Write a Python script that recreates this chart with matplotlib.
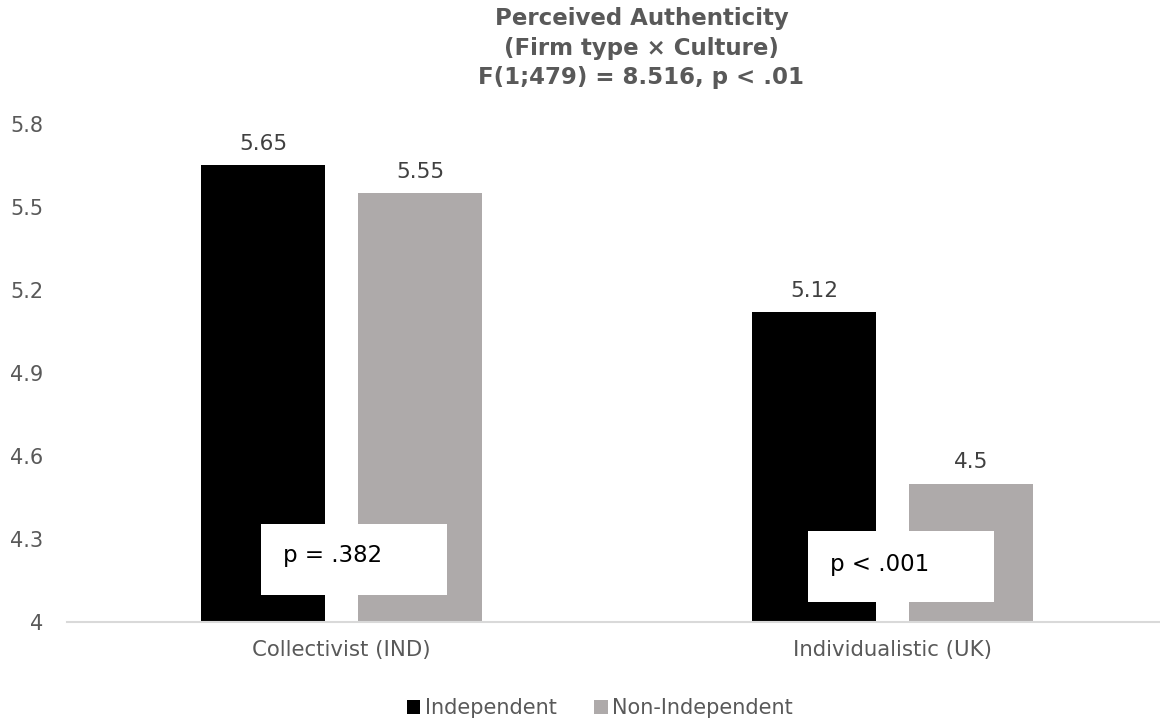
import matplotlib
matplotlib.use("Agg")
import matplotlib.pyplot as plt
from matplotlib.patches import Rectangle, Patch
import numpy as np

# Perceived authenticity means by culture and firm type
cultures = ["Collectivist (IND)", "Individualistic (UK)"]
independent = [5.65, 5.12]
non_independent = [5.55, 4.5]
p_labels = ["p = .382", "p < .001"]
y_ticks = [4, 4.3, 4.6, 4.9, 5.2, 5.5, 5.8]

BLACK = "#000000"
GREY = "#AEAAAA"
TEXT = "#595959"

plt.rcParams["font.family"] = ["DejaVu Sans"]

fig = plt.figure(figsize=(11.6, 7.24), dpi=100)
ax = fig.add_axes([0.0578, 0.141, 0.9422, 0.6878])

x = np.arange(len(cultures))
width = 0.225
offset = 0.1425

b1 = ax.bar(x - offset, independent, width, color=BLACK, label="Independent", zorder=2)
b2 = ax.bar(x + offset, non_independent, width, color=GREY, label="Non-Independent", zorder=2)

for bars, vals in ((b1, independent), (b2, non_independent)):
    for rect, v in zip(bars, vals):
        ax.annotate(f"{v:g}", (rect.get_x() + rect.get_width() / 2, v),
                    xytext=(0, 8), textcoords="offset points",
                    ha="center", va="bottom", fontsize=15.5, color="#404040")

ax.set_ylim(4, 5.8)
ax.set_xlim(-0.4985, 1.4846)
ax.set_yticks(y_ticks)
ax.set_yticklabels([f"{t:g}" for t in y_ticks])
ax.set_xticks(x)
ax.set_xticklabels(cultures)
ax.tick_params(axis="y", length=0, pad=17, labelsize=15, labelcolor=TEXT)
ax.tick_params(axis="x", length=0, pad=13, labelsize=15.3, labelcolor=TEXT)

for side in ("left", "right", "top"):
    ax.spines[side].set_visible(False)
ax.spines["bottom"].set_color("#D9D9D9")
ax.spines["bottom"].set_linewidth(1.5)
ax.spines["bottom"].set_zorder(3)

# white boxes with the simple-effect p values
boxes = [(0.1775, 0.054, 0.1426), (0.678, 0.040, 0.1426)]
text_pos = [(0.1976, 0.1325), (0.698, 0.1145)]
for (bx, by, bh), (tx, ty), lab in zip(boxes, text_pos, p_labels):
    ax.add_patch(Rectangle((bx, by), 0.170, bh, transform=ax.transAxes,
                           facecolor="white", edgecolor="none", zorder=4))
    ax.text(tx, ty, lab, transform=ax.transAxes, ha="left", va="center",
            fontsize=16.5, color="black", zorder=5)

fig.text(0.553, 0.99, "Perceived Authenticity\n(Firm type \u00d7 Culture)\nF(1;479) = 8.516, p < .01",
         ha="center", va="top", fontsize=16.5, fontweight="bold", color=TEXT,
         linespacing=1.35)

handles = [Patch(facecolor=BLACK), Patch(facecolor=GREY)]
fig.legend(handles, ["Independent", "Non-Independent"], loc="center",
           bbox_to_anchor=(0.517, 0.022), ncol=2, frameon=False,
           fontsize=15, labelcolor=TEXT, handlelength=0.65, handleheight=0.65,
           handletextpad=0.2, columnspacing=1.8)

fig.savefig("out.png", dpi=100)
